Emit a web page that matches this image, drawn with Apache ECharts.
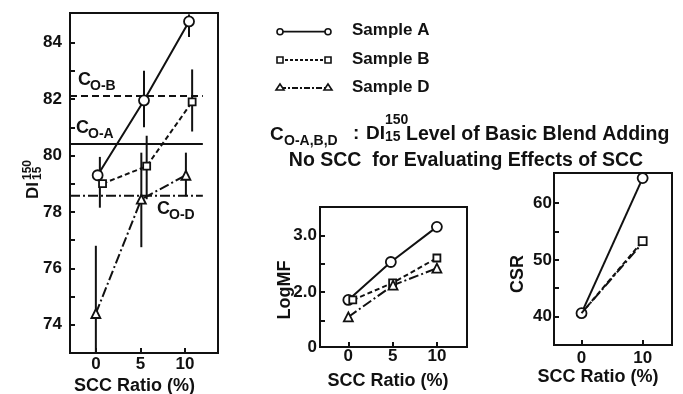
<!DOCTYPE html>
<html><head><meta charset="utf-8">
<script src="https://cdn.jsdelivr.net/npm/echarts@6/dist/echarts.min.js"></script>
<style>html,body{margin:0;padding:0;background:#fff}#c{width:683px;height:394px}</style>
</head><body><div id="c"></div>
<script>
// ---- DATA ----
// Left panel: DI 150/15 vs SCC ratio  [x, value]
const diA = [[0.2, 79.3], [5.4, 81.95], [10.45, 84.75]];
const diB = [[0.75, 79.0], [5.7, 79.62], [10.8, 81.9]];
const diD = [[0, 74.4], [5.1, 78.45], [10.1, 79.3]];
// scatter ranges [x, low, high]
const diRanges = [[0.45, 78.15, 79.95], [0, 73.0, 76.8], [5.4, 81.0, 83.0], [5.7, 78.45, 80.7],
                  [5.1, 76.75, 80.1], [10.45, 84.2, 85.0], [10.8, 80.85, 83.05], [10.1, 78.55, 80.1]];
// basic-blend levels C_O-A, C_O-B, C_O-D
const coNames = ['O-A', 'O-B', 'O-D'];
const coLevels = [80.41, 82.11, 78.57];
const coSpan = [-2.9, 12.0];
// Middle panel: Log MF
const mfA = [[0, 1.86], [4.8, 2.53], [10, 3.15]];
const mfB = [[0.5, 1.86], [5, 2.16], [10, 2.6]];
const mfD = [[0, 1.56], [5.05, 2.12], [10, 2.42]];
// Right panel: CSR
const csrA = [[0, 40.6], [10, 64.4]];
const csrB = [[0, 40.6], [10, 53.3]];
const csrD = [[0, 40.6], [10, 53.0]];
// tick labels
const sccTicks = [0, 5, 10];
const csrSccTicks = [0, 10];
const diTicks = [74, 76, 78, 80, 82, 84];
const diMinor = [74, 75, 76, 77, 78, 79, 80, 81, 82, 83, 84];
const mfTickVals = [1.03, 2, 3];
const mfTickLabels = ['0', '2.0', '3.0'];
const mfMinor = [1.5, 2, 2.5, 3];
const csrTicks = [40, 50, 60];
const csrMinor = [40, 45, 50, 55, 60];
const sampleNames = ['Sample A', 'Sample B', 'Sample D'];

// ---- STYLE ----
const K = '#111';
const NUM = '"Liberation Sans",Arial,sans-serif';
const TXT = '"Liberation Sans",Arial,sans-serif';
const dashB = [5, 3];
const dashD = [10, 3, 2, 3];
const dashCoB = [7, 4];

function xAxis(gi, min, max, ticks, margin) {
  return {type: 'value', gridIndex: gi, min: min, max: max, splitLine: {show: false},
    axisLine: {onZero: false, lineStyle: {color: K, width: 2}},
    axisTick: {inside: true, length: 5, customValues: ticks, lineStyle: {color: K, width: 2}},
    axisLabel: {customValues: ticks, color: K, fontFamily: NUM, fontWeight: 'bold', fontSize: 17, margin: margin}};
}
function yAxis(gi, min, max, labels, minor, margin, fmt) {
  return {type: 'value', gridIndex: gi, min: min, max: max, splitLine: {show: false},
    axisLine: {onZero: false, lineStyle: {color: K, width: 2}},
    axisTick: {inside: true, length: 5, customValues: minor, lineStyle: {color: K, width: 2}},
    axisLabel: {customValues: labels, color: K, fontFamily: NUM, fontWeight: 'bold', fontSize: 17, margin: margin, formatter: fmt}};
}
function ser(name, data, gi, symbol, size, dash, extra) {
  return Object.assign({type: 'line', name: name, data: data, xAxisIndex: gi, yAxisIndex: gi,
    symbol: symbol, symbolSize: size, showAllSymbol: true,
    itemStyle: {color: '#fff', borderColor: K, borderWidth: 1.8},
    lineStyle: {color: K, width: 2, type: dash}, z: 3, animation: false}, extra || {});
}

const series = [];
// left panel
series.push(ser(sampleNames[0], diA, 0, 'circle', 10, 'solid'));
series.push(ser(sampleNames[1], diB, 0, 'rect', 7, dashB));
series.push(ser(sampleNames[2], diD, 0, 'triangle', 9, dashD));
const coDash = ['solid', dashCoB, dashD];
coLevels.forEach((v, i) => {
  series.push({type: 'line', name: 'C' + coNames[i], xAxisIndex: 0, yAxisIndex: 0,
    data: [[coSpan[0], v], [coSpan[1], v]], symbol: 'none', animation: false,
    lineStyle: {color: K, width: 2, type: coDash[i]}, z: 2});
});
series.push({type: 'custom', name: 'range', xAxisIndex: 0, yAxisIndex: 0, data: diRanges,
  encode: {x: 0, y: [1, 2]}, z: 1, animation: false,
  renderItem: function (params, api) {
    const x = api.value(0);
    const a = api.coord([x, api.value(1)]);
    const b = api.coord([x, api.value(2)]);
    return {type: 'line', shape: {x1: a[0], y1: a[1], x2: b[0], y2: b[1]},
      style: {stroke: K, lineWidth: 2}};
  }});
// middle panel
series.push(ser(sampleNames[0], mfA, 1, 'circle', 10, 'solid'));
series.push(ser(sampleNames[1], mfB, 1, 'rect', 7, dashB));
series.push(ser(sampleNames[2], mfD, 1, 'triangle', 9, dashD));
// right panel
series.push(ser(sampleNames[0], csrA, 2, 'circle', 10, 'solid'));
series.push(ser(sampleNames[1], csrB.map((p, i) => i === 0 ? {value: p, symbol: 'none'} : p), 2, 'rect', 8, dashB, {z: 4}));
series.push(ser(sampleNames[2], csrD, 2, 'none', 9, dashD));

// legend (drawn)
const legendG = [];
const legY = [31.7, 60, 88];
const legSym = ['circle', 'rect', 'triangle'];
const legDash = [null, [3, 2], [6, 2, 2, 2]];
for (let i = 0; i < 3; i++) {
  legendG.push({type: 'line', shape: {x1: 280, y1: legY[i], x2: 328, y2: legY[i]},
    style: {stroke: K, lineWidth: 1.8, lineDash: legDash[i]}});
  [280, 328].forEach(cx => {
    if (legSym[i] === 'circle') legendG.push({type: 'circle', shape: {cx: cx, cy: legY[i], r: 3}, style: {fill: '#fff', stroke: K, lineWidth: 1.6}});
    else if (legSym[i] === 'rect') legendG.push({type: 'rect', shape: {x: cx - 3, y: legY[i] - 3, width: 6, height: 6}, style: {fill: '#fff', stroke: K, lineWidth: 1.6}});
    else legendG.push({type: 'polygon', shape: {points: [[cx, legY[i] - 4], [cx - 4, legY[i] + 2], [cx + 4, legY[i] + 2]]}, style: {fill: '#fff', stroke: K, lineWidth: 1.6}});
  });
  legendG.push({type: 'text', x: 352, y: legY[i] - 1, style: {text: sampleNames[i], fill: K, font: 'bold 17px ' + TXT, verticalAlign: 'middle'}});
}

function t(x, y, s, size, family, align, extra) {
  return Object.assign({type: 'text', x: x, y: y, style: {text: s, fill: K, font: 'bold ' + size + 'px ' + family, align: align || 'left', verticalAlign: 'middle'}}, extra || {});
}
const texts = [];
// C_O labels inside left panel
texts.push(t(78, 80, 'C', 18, TXT), t(90, 86, coNames[1], 14, TXT));
texts.push(t(76, 128.5, 'C', 18, TXT), t(88, 134, coNames[0], 14, TXT));
texts.push(t(157, 209.5, 'C', 18, TXT), t(169, 215.5, coNames[2], 14, TXT));
// left y-axis name DI 150/15 (rotated)
texts.push({type: 'group', x: 33, y: 199, rotation: Math.PI / 2, children: [
  t(0, 0, 'DI', 17, TXT),
  t(19, -5, '150', 12, NUM),
  t(19, 5, '15', 12, NUM)
]});
texts.push({type: 'text', x: 285, y: 290, rotation: Math.PI / 2, style: {text: 'LogMF', fill: K, font: 'bold 18px ' + TXT, align: 'center', verticalAlign: 'middle'}});
texts.push({type: 'text', x: 518, y: 274, rotation: Math.PI / 2, style: {text: 'CSR', fill: K, font: 'bold 18px ' + TXT, align: 'center', verticalAlign: 'middle'}});
// x-axis names
texts.push(t(134.5, 386.5, 'SCC Ratio (%)', 18, TXT, 'center'));
texts.push(t(388, 381.5, 'SCC Ratio (%)', 18, TXT, 'center'));
texts.push(t(598, 377, 'SCC Ratio (%)', 18, TXT, 'center'));
// annotation
texts.push(t(270, 135, 'C', 19, TXT), t(284, 141, 'O-A,B,D', 14, TXT));
texts.push(t(353, 134, ':', 19, TXT), t(366, 134, 'DI', 19, TXT));
texts.push(t(385, 120, '150', 14, TXT), t(385, 137, '15', 14, TXT));
texts.push(t(406, 135, 'Level of Basic Blend Adding', 19.5, TXT));
texts.push(t(466, 160.5, 'No SCC  for Evaluating Effects of SCC', 19.5, TXT, 'center'));

const option = {
  backgroundColor: '#fff',
  animation: false,
  grid: [
    {left: 70, top: 13, right: 465, bottom: 41, show: true, borderColor: K, borderWidth: 2, backgroundColor: 'transparent'},
    {left: 320, top: 207, right: 216, bottom: 47, show: true, borderColor: K, borderWidth: 2, backgroundColor: 'transparent'},
    {left: 554, top: 173, right: 11, bottom: 49, show: true, borderColor: K, borderWidth: 2, backgroundColor: 'transparent'}
  ],
  xAxis: [xAxis(0, -2.9, 13.7, sccTicks, 3), xAxis(1, -3.2, 13.4, sccTicks, 1), xAxis(2, -4.5, 14.8, csrSccTicks, 5)],
  yAxis: [
    yAxis(0, 73, 85.05, diTicks, diMinor, 8),
    yAxis(1, 1.03, 3.5, mfTickVals, mfMinor, 3, function (v) { const i = mfTickVals.indexOf(v); return i >= 0 ? mfTickLabels[i] : ''; }),
    yAxis(2, 35, 65.3, csrTicks, csrMinor, 2)
  ],
  series: series,
  graphic: legendG.concat(texts)
};
const chart = echarts.init(document.getElementById('c'), null, {renderer: 'canvas'});
chart.setOption(option);
</script></body></html>
